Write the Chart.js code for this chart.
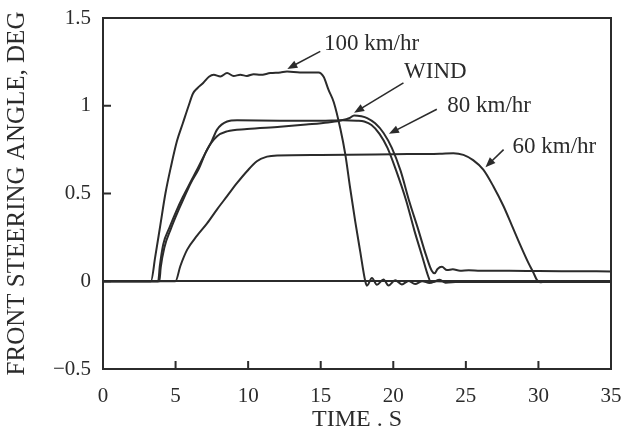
<!DOCTYPE html>
<html>
<head>
<meta charset="utf-8">
<title>Front steering angle</title>
<script src="https://cdn.jsdelivr.net/npm/chart.js@4.4.1/dist/chart.umd.min.js"></script>
<style>
  html, body { margin: 0; padding: 0; background: #fff; }
  canvas { display: block; }
</style>
</head>
<body>
<canvas id="steering" width="623" height="434"></canvas>
<script>
// time (s) and front steering angle (deg) for each run
var t100 = [0, 3.3, 3.6, 3.95, 4.3, 4.7, 5.1, 5.5, 5.9, 6.2, 6.5, 6.9, 7.3, 7.63, 8.09, 8.55, 9.0, 9.46, 9.92, 10.38, 10.84, 11.53, 12.22, 12.68, 13.57, 14.4, 14.85, 15.2, 15.54, 15.9, 16.35, 16.7, 17.03, 17.38, 17.72, 18.07, 18.18, 18.53, 18.87, 19.33, 19.67, 20.13, 20.59, 21.05, 21.5, 22.0, 22.5, 23.0, 24, 35];
var v100 = [0, 0, 0.14, 0.32, 0.5, 0.66, 0.8, 0.9, 1.0, 1.07, 1.1, 1.13, 1.165, 1.176, 1.167, 1.186, 1.17, 1.176, 1.17, 1.18, 1.176, 1.186, 1.19, 1.195, 1.19, 1.19, 1.19, 1.165, 1.09, 1.02, 0.87, 0.72, 0.53, 0.34, 0.17, 0.0, -0.025, 0.018, -0.02, 0.01, -0.024, 0.006, -0.018, 0.002, -0.016, 0.0, -0.01, 0.0, -0.004, -0.004];

var t80 = [0, 3.8, 3.92, 4.15, 4.6, 5.05, 5.5, 6.0, 6.6, 7.05, 7.5, 7.86, 8.55, 9.24, 12.2, 15.0, 16.5, 17.5, 18.0, 18.5, 19.05, 19.6, 20.2, 20.9, 21.45, 22.0, 22.4, 22.6, 23.2, 23.6, 24.5, 35];
var v80 = [0, 0, 0.09, 0.21, 0.31, 0.4, 0.48, 0.56, 0.655, 0.73, 0.8, 0.864, 0.91, 0.917, 0.915, 0.915, 0.918, 0.915, 0.91, 0.89, 0.84, 0.76, 0.63, 0.456, 0.29, 0.14, 0.03, -0.006, 0.008, -0.008, -0.003, -0.004];

var tWind = [0, 3.88, 3.98, 4.22, 4.68, 5.12, 5.58, 6.05, 6.6, 7.17, 7.86, 8.55, 9.92, 12.2, 14.0, 15.5, 16.3, 17.0, 17.3, 17.8, 18.2, 18.75, 19.33, 19.9, 20.5, 21.1, 21.7, 22.25, 22.65, 22.85, 23.05, 23.35, 23.7, 24.1, 24.6, 25.2, 26, 28, 30, 32, 35];
var vWind = [0, 0, 0.08, 0.19, 0.3, 0.39, 0.475, 0.56, 0.64, 0.75, 0.826, 0.854, 0.867, 0.88, 0.893, 0.905, 0.915, 0.93, 0.945, 0.94, 0.93, 0.9, 0.845, 0.76, 0.63, 0.456, 0.3, 0.15, 0.06, 0.045, 0.07, 0.082, 0.064, 0.068, 0.06, 0.063, 0.06, 0.06, 0.058, 0.057, 0.056];

var t60 = [0, 4.99, 5.33, 5.8, 6.48, 7.17, 7.86, 8.55, 9.24, 9.92, 10.6, 11.3, 12.0, 15, 20, 23.2, 24.14, 24.83, 25.5, 26.2, 26.9, 27.58, 28.16, 28.73, 29.3, 29.65, 29.88, 30.1, 30.5, 35];
var v60 = [0, 0, 0.087, 0.18, 0.26, 0.33, 0.41, 0.485, 0.56, 0.627, 0.684, 0.71, 0.717, 0.72, 0.724, 0.727, 0.73, 0.72, 0.69, 0.636, 0.54, 0.43, 0.32, 0.21, 0.106, 0.05, 0.01, -0.006, -0.004, -0.004];

var seriesNames = ['100 km/hr', '80 km/hr', 'WIND', '60 km/hr'];
var xTicks = [0, 35, 5];       // min, max, step
var yTicks = [-0.5, 1.5, 0.5];

var ink = '#2b2b2b';

function pairs(ts, vs) {
    return ts.map(function(t, i) { return {x: t, y: vs[i]}; });
}

// callout text with an arrow, both given in data units
var callouts = [
    {text: seriesNames[0], at: [18.5, 1.35], from: [14.97, 1.31], to: [12.7, 1.21]},
    {text: seriesNames[2], at: [22.9, 1.19], from: [20.7, 1.13], to: [17.3, 0.96]},
    {text: seriesNames[1], at: [26.6, 1.0], from: [23.0, 0.98], to: [19.7, 0.84]},
    {text: seriesNames[3], at: [31.1, 0.765], from: [27.6, 0.75], to: [26.35, 0.65]}
];

var framePlugin = {
    id: 'frame',
    afterDatasetsDraw: function(chart) {
        var ctx = chart.ctx, area = chart.chartArea;
        var xs = chart.scales.x, ys = chart.scales.y;
        ctx.save();
        ctx.strokeStyle = ink;
        ctx.lineWidth = 2;
        ctx.strokeRect(area.left, area.top, area.right - area.left, area.bottom - area.top);

        // short inward ticks
        ctx.beginPath();
        ys.ticks.forEach(function(tk) {
            if (tk.value <= ys.min || tk.value >= ys.max) return;
            var py = ys.getPixelForValue(tk.value);
            ctx.moveTo(area.left, py);
            ctx.lineTo(area.left + 8, py);
        });
        xs.ticks.forEach(function(tk) {
            if (tk.value <= xs.min || tk.value >= xs.max) return;
            var px = xs.getPixelForValue(tk.value);
            ctx.moveTo(px, area.bottom);
            ctx.lineTo(px, area.bottom - 8);
        });
        ctx.stroke();

        // labels and arrows
        ctx.fillStyle = ink;
        ctx.font = "23px 'Liberation Serif', 'DejaVu Serif', serif";
        ctx.textAlign = 'center';
        ctx.textBaseline = 'middle';
        callouts.forEach(function(c) {
            ctx.fillText(c.text, xs.getPixelForValue(c.at[0]), ys.getPixelForValue(c.at[1]));
            var x0 = xs.getPixelForValue(c.from[0]), y0 = ys.getPixelForValue(c.from[1]);
            var x1 = xs.getPixelForValue(c.to[0]), y1 = ys.getPixelForValue(c.to[1]);
            var ang = Math.atan2(y1 - y0, x1 - x0);
            ctx.lineWidth = 1.6;
            ctx.beginPath();
            ctx.moveTo(x0, y0);
            ctx.lineTo(x1 - 6 * Math.cos(ang), y1 - 6 * Math.sin(ang));
            ctx.stroke();
            ctx.beginPath();
            ctx.moveTo(x1, y1);
            ctx.lineTo(x1 - 10 * Math.cos(ang) + 4 * Math.sin(ang), y1 - 10 * Math.sin(ang) - 4 * Math.cos(ang));
            ctx.lineTo(x1 - 10 * Math.cos(ang) - 4 * Math.sin(ang), y1 - 10 * Math.sin(ang) + 4 * Math.cos(ang));
            ctx.closePath();
            ctx.fill();
        });
        ctx.restore();
    }
};

Chart.defaults.font.family = "'Liberation Serif', 'DejaVu Serif', serif";
Chart.defaults.color = ink;

var lineStyle = {
    borderColor: ink,
    borderWidth: 2,
    pointRadius: 0,
    fill: false,
    cubicInterpolationMode: 'monotone'
};

var steeringChart = new Chart(document.getElementById('steering').getContext('2d'), {
    type: 'line',
    data: {
        datasets: [
            Object.assign({label: seriesNames[0], data: pairs(t100, v100)}, lineStyle),
            Object.assign({label: seriesNames[1], data: pairs(t80, v80)}, lineStyle),
            Object.assign({label: seriesNames[2], data: pairs(tWind, vWind)}, lineStyle),
            Object.assign({label: seriesNames[3], data: pairs(t60, v60)}, lineStyle)
        ]
    },
    options: {
        responsive: false,
        animation: false,
        layout: {padding: {left: 0, right: 12, top: 18, bottom: 0}},
        plugins: {legend: {display: false}, tooltip: {enabled: false}},
        scales: {
            x: {
                type: 'linear',
                min: xTicks[0], max: xTicks[1],
                ticks: {stepSize: xTicks[2], padding: 7, font: {size: 21}},
                grid: {display: false},
                border: {display: false},
                title: {display: true, text: 'TIME . S', font: {size: 24}, padding: 0},
                afterFit: function(scale) {
                    scale.height = 65;
                    scale.paddingLeft = 0;
                    scale.paddingRight = 0;
                }
            },
            y: {
                min: yTicks[0], max: yTicks[1],
                ticks: {
                    stepSize: yTicks[2], padding: 12, font: {size: 21},
                    callback: function(v) { return v < 0 ? '\u2212' + Math.abs(v) : String(v); }
                },
                grid: {
                    drawTicks: false,
                    lineWidth: 2,
                    color: function(c) { return c.tick && c.tick.value === 0 ? ink : 'rgba(0,0,0,0)'; }
                },
                border: {display: false},
                title: {display: true, text: 'FRONT STEERING ANGLE, DEG', font: {size: 25}, padding: {top: 2, bottom: 0}},
                afterFit: function(scale) {
                    scale.width = 103;
                    scale.paddingTop = 0;
                    scale.paddingBottom = 0;
                }
            }
        }
    },
    plugins: [framePlugin]
});
</script>
</body>
</html>
